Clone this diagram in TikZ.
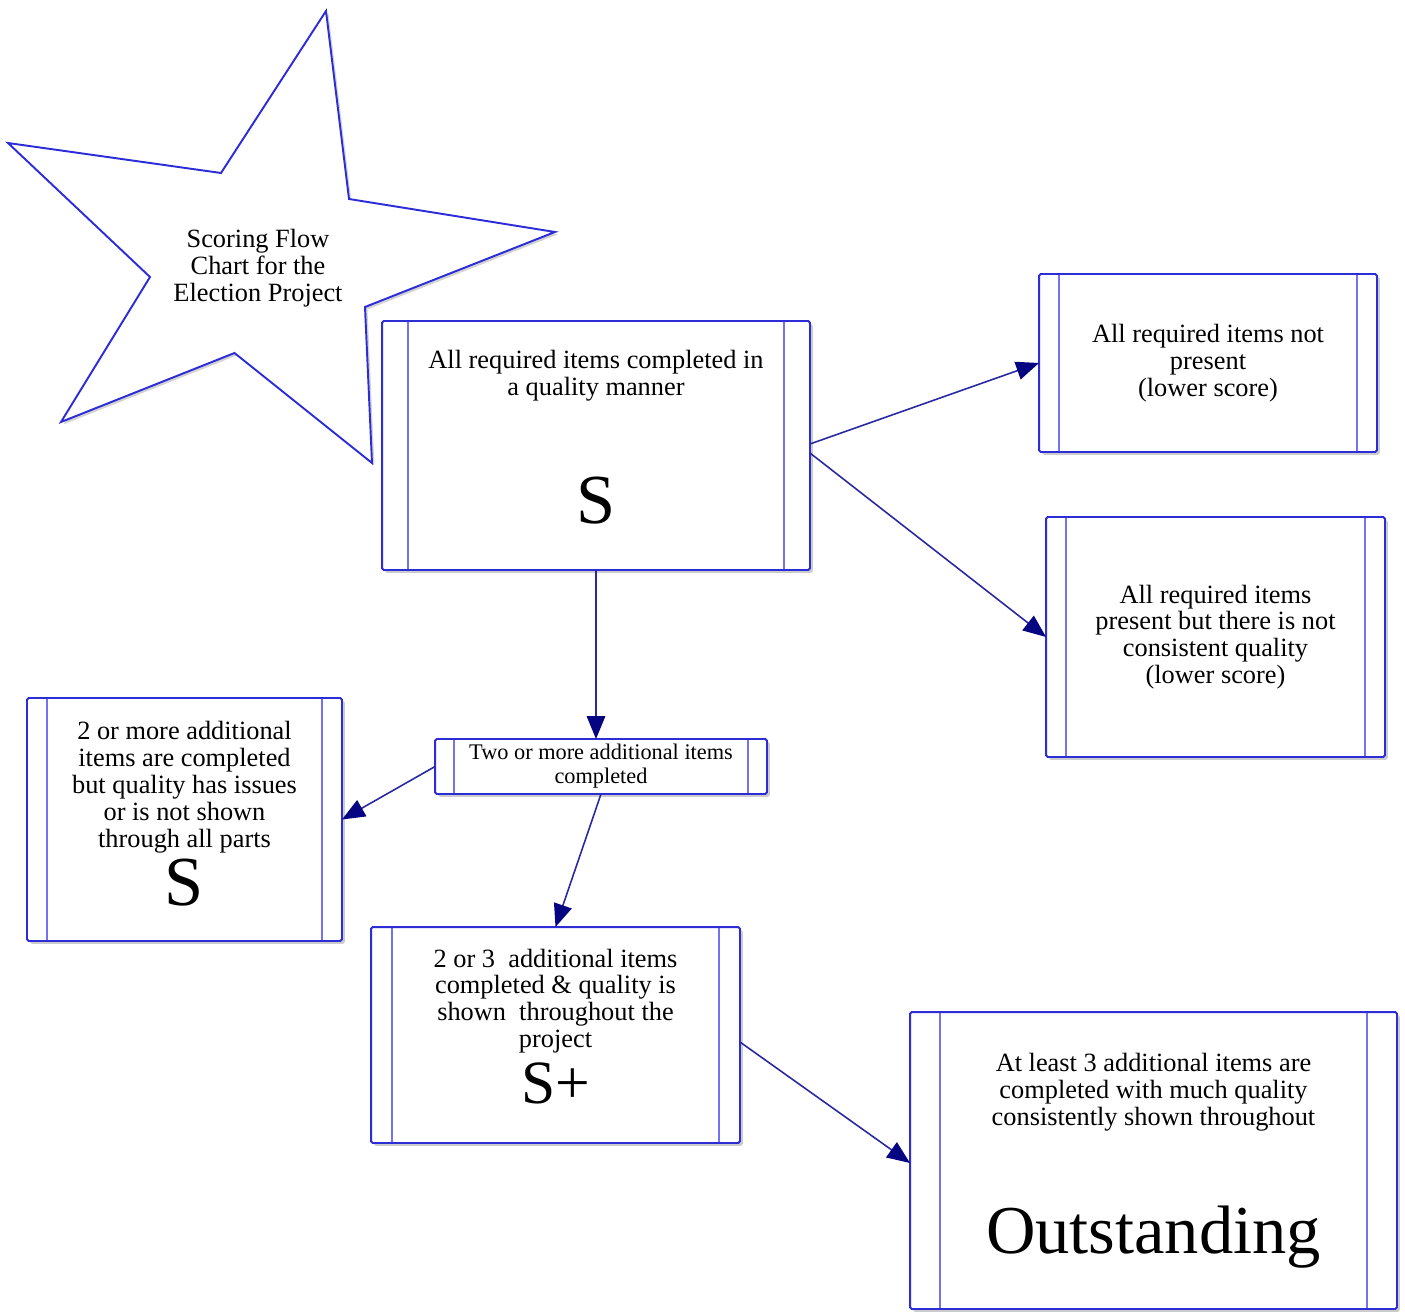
\documentclass[tikz,border=0pt]{standalone}
\usepackage{fontspec}
\setmainfont{Liberation Serif}
\usetikzlibrary{arrows.meta, shadows}

\definecolor{edgeblue}{RGB}{45,45,215}
\definecolor{splitblue}{RGB}{115,115,238}
\definecolor{arrowblue}{RGB}{40,40,160}
\definecolor{headnavy}{RGB}{5,5,130}
\newcommand{\boxfont}{\fontsize{15}{15.3}\selectfont}
\newcommand{\smallboxfont}{\fontsize{12.7}{13.6}\selectfont}
\newcommand{\bigmark}{\fontsize{40}{40}\selectfont}

\begin{document}
\begin{tikzpicture}[x=0.02cm, y=-0.02cm,
    >={Triangle[length=13pt, width=10.5pt, color=headnavy]},
    procbox/.style={rectangle, draw=edgeblue, line width=1.1pt, fill=white, rounded corners=1pt,
        inner sep=0pt, outer sep=0pt, align=center, font=\boxfont,
        drop shadow={shadow xshift=1.6pt, shadow yshift=-1.6pt, opacity=.4},
        path picture={
            \draw[splitblue, line width=1.1pt] ([xshift=#1]path picture bounding box.north west) -- ([xshift=#1]path picture bounding box.south west);
            \draw[splitblue, line width=1.1pt] ([xshift=-#1]path picture bounding box.north east) -- ([xshift=-#1]path picture bounding box.south east);
        }},
    flow/.style={->, draw=arrowblue, line width=0.9pt},
    starline/.style={draw=edgeblue, line width=1.1pt, fill=white, line join=miter,
        drop shadow={shadow xshift=1.4pt, shadow yshift=-1.4pt, opacity=.35}}
    ]
    \useasboundingbox (0,0) rectangle (1405,1311);
    % Star
    \path[starline] (326,11) -- (349,199) -- (555,232) -- (365,307) -- (372,463) -- (234.5,353)
        -- (61,422) -- (150,277) -- (8,143) -- (221,173) -- cycle;
    \node[align=center, font=\boxfont] (title) at (258,268) {Scoring Flow\\Chart for the\\Election Project};
    % Nodes
    \node[procbox=0.52cm, minimum width=8.56cm, minimum height=4.98cm] (main) at (596,445.5)
        {All required items completed in\\a quality manner\\[42pt]{\bigmark S}\rule[-10pt]{0pt}{10pt}};
    \node[procbox=0.4cm, minimum width=6.76cm, minimum height=3.56cm] (notpresent) at (1208,363)
        {All required items not\\present\\(lower score)};
    \node[procbox=0.4cm, minimum width=6.78cm, minimum height=4.8cm] (notconsistent) at (1215.5,637)
        {All required items\\present but there is not\\consistent quality\\(lower score)};
    \node[procbox=0.38cm, minimum width=6.64cm, minimum height=1.1cm, font=\smallboxfont] (twomore) at (601,766.5)
        {Two or more additional items\\completed};
    \node[procbox=0.4cm, minimum width=6.3cm, minimum height=4.86cm] (issues) at (184.5,819.5)
        {2 or more additional\\items are completed\\but quality has issues\\or is not shown\\through all parts\\[2.5pt]{\bigmark S}\rule[-6.8pt]{0pt}{6.8pt}};
    \node[procbox=0.42cm, minimum width=7.38cm, minimum height=4.32cm] (splus) at (555.5,1035)
        {2 or 3\ \ additional items\\completed \& quality is\\shown\ \ throughout the\\project\\[4.5pt]{\fontsize{35}{35}\selectfont S+}\rule[-10pt]{0pt}{10pt}};
    \node[procbox=0.6cm, minimum width=9.74cm, minimum height=5.94cm] (outstanding) at (1153.5,1160.5)
        {At least 3 additional items are\\completed with much quality\\consistently shown throughout\\[41.5pt]{\fontsize{39}{39}\selectfont Outstanding}};
    % Edges
    \path ([yshift=0.03cm]main.east) edge [flow] (notpresent.west);
    \path ([yshift=-0.15cm]main.east) edge [flow] (notconsistent.west);
    \path (main.south) edge [flow] (main.south |- twomore.north);
    \path (twomore.west) edge [flow] (issues.east);
    \path (twomore.south) edge [flow] (splus.north);
    \path ([yshift=-0.14cm]splus.east) edge [flow] ([yshift=-0.05cm]outstanding.west);
\end{tikzpicture}
\end{document}
